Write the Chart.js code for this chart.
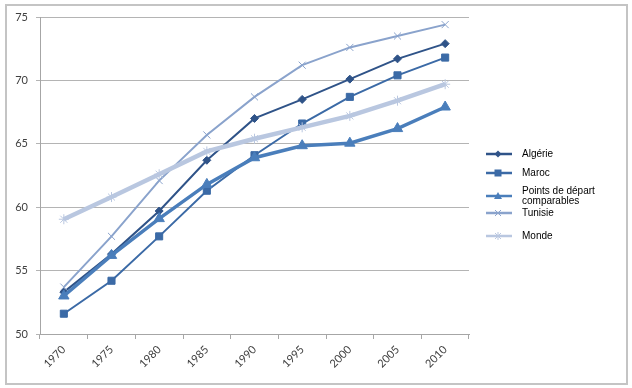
<!DOCTYPE html>
<html>
<head>
<meta charset="utf-8">
<script src="https://cdn.jsdelivr.net/npm/chart.js"></script>
<style>
  body { margin: 0; background: #fff; }
  #wrap { position: relative; width: 632px; height: 388px; }
  #frame { position: absolute; left: 5px; top: 4px; width: 619px; height: 377px; border: 2px solid #c4c4c4; }
  #legend { position: absolute; left: 484px; top: 140px; font: 10px "Liberation Sans", Arial, sans-serif; color: #000; }
  .item { position: absolute; left: 0; width: 140px; display: flex; align-items: center; }
  .item svg { flex: none; }
  .item span { margin-left: 10px; line-height: 10px; }
</style>
</head>
<body>
<div id="wrap">
  <div id="frame"></div>
  <canvas id="c" width="632" height="388"></canvas>
  <div id="legend"></div>
</div>
<script>
const years = ["1970", "1975", "1980", "1985", "1990", "1995", "2000", "2005", "2010"];
const algerie = [53.3, 56.3, 59.7, 63.7, 67.0, 68.5, 70.1, 71.7, 72.9];
const maroc = [51.6, 54.2, 57.7, 61.3, 64.1, 66.6, 68.7, 70.4, 71.8];
const pointsDepart = [53.0, 56.2, 59.1, 61.8, 63.9, 64.85, 65.05, 66.2, 67.9];
const tunisie = [53.7, 57.7, 62.1, 65.7, 68.7, 71.2, 72.6, 73.5, 74.4];
const monde = [59.05, 60.8, 62.6, 64.4, 65.4, 66.3, 67.2, 68.4, 69.7];

// series look, Excel-ish blues
const series = [
  { label: "Algérie", data: algerie, color: "#2f5388", width: 2, style: "rectRot", radius: 4 },
  { label: "Maroc", data: maroc, color: "#3b6aa6", width: 2, style: "rect", radius: 5 },
  { label: ["Points de départ", "comparables"], data: pointsDepart, color: "#4a7ebb", width: 3.5, style: "triangle", radius: 6 },
  { label: "Tunisie", data: tunisie, color: "#8aa3cc", width: 2, style: "crossRot", radius: 5 },
  { label: "Monde", data: monde, color: "#b9c7e0", width: 4.5, style: "star", radius: 5 }
];

new Chart(document.getElementById("c"), {
  type: "line",
  data: {
    labels: years,
    datasets: series.map((s, i) => ({
      label: s.label,
      data: s.data,
      borderColor: s.color,
      backgroundColor: s.color,
      borderWidth: s.width,
      pointStyle: s.style,
      pointRadius: s.radius,
      pointBorderWidth: 1,
      pointBorderColor: s.color,
      pointBackgroundColor: s.color,
      tension: 0,
      order: series.length - i
    }))
  },
  options: {
    responsive: false,
    animation: false,
    layout: { padding: { left: 0, right: 163, top: 17, bottom: 0 } },
    plugins: { legend: { display: false }, tooltip: { enabled: false } },
    scales: {
      x: {
        offset: true,
        grid: { offset: true, drawOnChartArea: false, tickLength: 5, color: "#a6a6a6" },
        border: { color: "#a6a6a6" },
        ticks: { minRotation: 45, maxRotation: 45, padding: 4, color: "#404040", font: { family: "Lato, 'Open Sans', sans-serif", size: 11 } },
        afterFit: s => { s.height = 54; }
      },
      y: {
        min: 50,
        max: 75,
        ticks: { stepSize: 5, padding: 8, color: "#404040", font: { family: "Lato, 'Open Sans', sans-serif", size: 11 } },
        grid: { color: "#b4b4b4", tickLength: 4 },
        border: { color: "#a6a6a6" },
        afterFit: s => { s.width = 40; }
      }
    }
  }
});

// legend in HTML, to allow the two-line label
function marker(s) {
  const c = s.color, cx = 14, cy = 6;
  let m = "";
  if (s.style === "rectRot") m = `<polygon points="${cx},${cy-3.5} ${cx+3.5},${cy} ${cx},${cy+3.5} ${cx-3.5},${cy}" fill="${c}"/>`;
  if (s.style === "rect") m = `<rect x="${cx-3.5}" y="${cy-3.5}" width="7" height="7" fill="${c}"/>`;
  if (s.style === "triangle") m = `<polygon points="${cx},${cy-4} ${cx+4},${cy+3} ${cx-4},${cy+3}" fill="${c}"/>`;
  if (s.style === "crossRot") m = `<path d="M${cx-3} ${cy-3}L${cx+3} ${cy+3}M${cx+3} ${cy-3}L${cx-3} ${cy+3}" stroke="${c}" stroke-width="1"/>`;
  if (s.style === "star") m = `<path d="M${cx-3} ${cy-3}L${cx+3} ${cy+3}M${cx+3} ${cy-3}L${cx-3} ${cy+3}M${cx} ${cy-4}L${cx} ${cy+4}" stroke="${c}" stroke-width="1"/>`;
  return `<svg width="28" height="12"><line x1="2" y1="${cy}" x2="28" y2="${cy}" stroke="${c}" stroke-width="2.5"/>${m}</svg>`;
}
const rowsY = [14, 33, 56, 73, 96];
const leg = document.getElementById("legend");
series.forEach((s, i) => {
  const d = document.createElement("div");
  d.className = "item";
  d.style.top = (rowsY[i] - (Array.isArray(s.label) ? 10 : 6)) + "px";
  const txt = Array.isArray(s.label) ? s.label.join("<br>") : s.label;
  d.innerHTML = marker(s) + `<span>${txt}</span>`;
  leg.appendChild(d);
});
</script>
</body>
</html>
